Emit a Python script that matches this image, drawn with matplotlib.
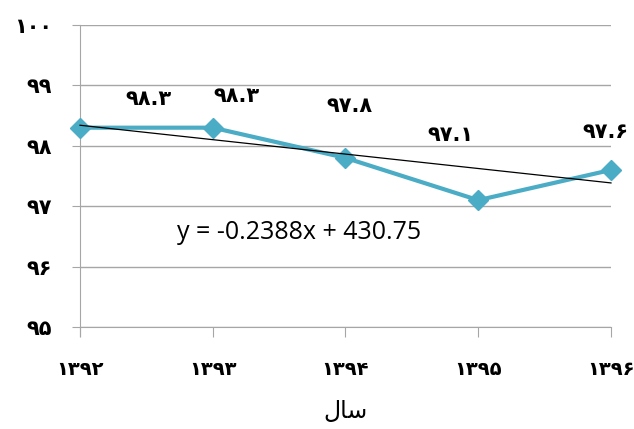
import matplotlib.pyplot as plt
import numpy as np

# data
years = [1392, 1393, 1394, 1395, 1396]
values = [98.3, 98.3, 97.8, 97.1, 97.6]
trend_slope = -0.2388
trend_intercept = 430.75
y_ticks = [95, 96, 97, 98, 99, 100]

fa_digits = str.maketrans('0123456789', '۰۱۲۳۴۵۶۷۸۹')

def fa(s):
    return str(s).translate(fa_digits)

# label offsets in points (hand placed in the original)
label_offsets = [(49, 21), (17, 23), (3, 37), (-20, 47), (-4, 27)]

line_color = '#4BACC6'
grid_color = '#A6A6A6'

fig = plt.figure(figsize=(6.34, 4.29), dpi=100)
ax = fig.add_axes([0.1262, 0.2378, 0.8375, 0.7039])

# horizontal gridlines
for t in y_ticks:
    ax.axhline(t, color=grid_color, lw=1, zorder=0)

ax.plot(years, values, color=line_color, lw=3, marker='D', ms=10,
        zorder=3, clip_on=False)

x = np.array(years)
ax.plot(x, trend_slope * x + trend_intercept, color='black', lw=0.9,
        zorder=4, clip_on=False)

for yr, v, off in zip(years, values, label_offsets):
    ax.annotate(fa(v), (yr, v), xytext=off, textcoords='offset points',
                ha='center', va='center', fontsize=15, fontweight='bold',
                family='DejaVu Sans')

ax.text(1393.65, 96.57, 'y = -0.2388x + 430.75', fontsize=18,
        ha='center', va='center', family='Open Sans')

ax.set_xlim(1392, 1396)
ax.set_ylim(95, 100)
ax.set_xticks(years)
ax.set_xticklabels([fa(y) for y in years], fontsize=14, fontweight='bold')
ax.set_yticks(y_ticks)
ax.set_yticklabels([fa(t) for t in y_ticks], fontsize=15, fontweight='bold')
ax.tick_params(axis='y', length=6, color=grid_color, pad=14)
ax.tick_params(axis='x', length=7, color=grid_color, pad=17)

for s in ['top', 'right']:
    ax.spines[s].set_visible(False)
ax.spines['left'].set_color(grid_color)
ax.spines['bottom'].set_color(grid_color)
ax.spines['left'].set_bounds(95 - 0.15, 100)

# "سال" in shaped presentation forms, visual order
ax.set_xlabel('\uFEDD\uFE8E\uFEB3', fontsize=17, labelpad=14)

fig.savefig('out.png', dpi=100)
